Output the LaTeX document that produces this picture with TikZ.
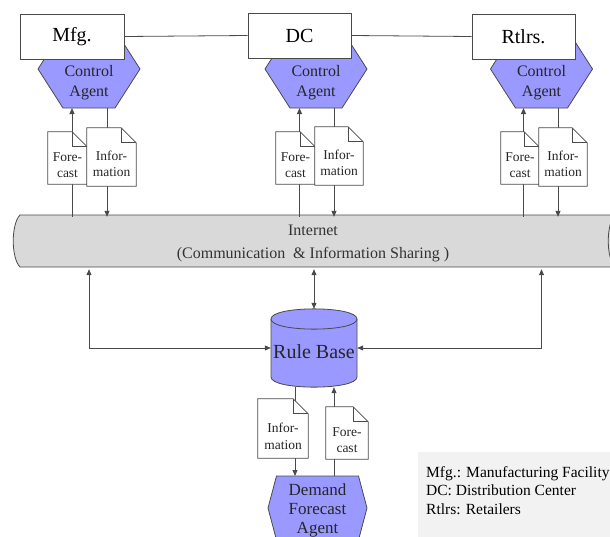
\documentclass[tikz,border=0pt]{standalone}
\usepackage{fontspec}
\setmainfont{Liberation Serif}
\usetikzlibrary{arrows.meta}

\definecolor{agentblue}{HTML}{9999FF}
\definecolor{netgray}{HTML}{D9D9D9}
\definecolor{keygray}{HTML}{F2F2F2}
\definecolor{linegray}{HTML}{4A4A4A}

% document symbol with a folded corner, drawn round a named node
\newcommand{\fold}[1]{%
  \draw[line, fill=white] (#1.south west) -- (#1.north west) -- ([xshift=-15pt]#1.north east)
        -- ([yshift=-15pt]#1.north east) -- (#1.south east) -- cycle;
  \draw[line] ([xshift=-15pt]#1.north east) |- ([yshift=-15pt]#1.north east);}

\begin{document}
\begin{tikzpicture}[x=1pt,y=-1pt,
    line/.style={draw=linegray, line width=0.8pt},
    arr/.style={line, -{Triangle[length=6pt,width=5pt]}},
    dblarr/.style={line, {Triangle[length=6pt,width=5pt]}-{Triangle[length=6pt,width=5pt]}},
    site/.style={rectangle, draw=linegray, fill=white, line width=0.8pt, minimum height=45pt,
                 inner sep=0pt, font=\fontsize{20}{24}\selectfont},
    agent/.style={line, fill=agentblue},
    agenttext/.style={align=center, inner sep=0pt, text=black!85, font=\fontsize{16}{20}\selectfont},
    doc/.style={rectangle, inner sep=0pt},
    doctext/.style={align=center, inner sep=0pt, text=black!85, font=\fontsize{13.5}{16.5}\selectfont},
    nettext/.style={align=center, inner sep=0pt, text=black!80, font=\fontsize{16}{23}\selectfont}]
  \clip (0,0) rectangle (610,536);
  \fill[white] (0,0) rectangle (610,536);

  % Internet band
  \draw[line, fill=netgray] (20,267) .. controls (11,258) and (11,224) .. (20,215)
        -- (625,215) -- (625,267) -- cycle;
  \draw[line] (615,215) .. controls (606,224) and (606,258) .. (615,267);
  \node[nettext, minimum width=586pt, minimum height=52pt] (NET) at (313,243)
        {Internet\\(Communication \ \& Information Sharing\ )};

  % control agents and sites
  \draw[agent] (89,69) ++(-51,0) -- ++(25,-39) -- ++(52,0) -- ++(25,39) -- ++(-25,39) -- ++(-52,0) -- cycle;
  \draw[agent] (316,69) ++(-51,0) -- ++(25,-39) -- ++(52,0) -- ++(25,39) -- ++(-25,39) -- ++(-52,0) -- cycle;
  \draw[agent] (541.5,69) ++(-51,0) -- ++(25,-39) -- ++(52,0) -- ++(25,39) -- ++(-25,39) -- ++(-52,0) -- cycle;
  \coordinate (caMb) at (89,108);
  \coordinate (caDb) at (316,108);
  \coordinate (caRb) at (541.5,108);
  \coordinate (ifMb) at (107,108);
  \coordinate (ifDb) at (334,108);
  \coordinate (ifRb) at (558,108);

  \node[site, minimum width=104pt] (Mfg) at (72,36.5) {Mfg.};
  \node[site, minimum width=103pt] (DC) at (299.5,35.5) {DC};
  \node[site, minimum width=103pt] (Rtlrs) at (523.5,36.5) {Rtlrs.};
  \draw[line] (Mfg.east) -- (DC.west);
  \draw[line] (DC.east) -- (Rtlrs.west);

  \node[agenttext] (caM) at (89,82.5) {Control\\Agent};
  \node[agenttext] (caD) at (316,82.5) {Control\\Agent};
  \node[agenttext] (caR) at (541.5,82.5) {Control\\Agent};

  % flows between agents and the Internet
  \draw[arr] (NET.north -| Mfg) -- (caMb -| Mfg);
  \draw[arr] (ifMb) -- (NET.north -| ifMb);
  \draw[arr] (NET.north -| DC) -- (caDb -| DC);
  \draw[arr] (ifDb) -- (NET.north -| ifDb);
  \draw[arr] (NET.north -| Rtlrs) -- (caRb -| Rtlrs);
  \draw[arr] (ifRb) -- (NET.north -| ifRb);

  \node[doc, minimum width=39pt, minimum height=52pt] (fcM) at (67.5,158) {};
  \fold{fcM}
  \node[doctext] (fcMt) at ([yshift=-7pt]fcM.center) {Fore-\\cast};
  \node[doc, minimum width=49pt, minimum height=58pt] (ifM) at (111.5,157) {};
  \fold{ifM}
  \node[doctext] (ifMt) at ([yshift=-7pt]ifM.center) {Infor-\\mation};

  \node[doc, minimum width=39pt, minimum height=52pt] (fcD) at (295.5,158) {};
  \fold{fcD}
  \node[doctext] (fcDt) at ([yshift=-7pt]fcD.center) {Fore-\\cast};
  \node[doc, minimum width=48pt, minimum height=58pt] (ifD) at (339,156) {};
  \fold{ifD}
  \node[doctext] (ifDt) at ([yshift=-7pt]ifD.center) {Infor-\\mation};

  \node[doc, minimum width=38pt, minimum height=52pt] (fcR) at (520,158) {};
  \fold{fcR}
  \node[doctext] (fcRt) at ([yshift=-7pt]fcR.center) {Fore-\\cast};
  \node[doc, minimum width=48pt, minimum height=58pt] (ifR) at (563,157) {};
  \fold{ifR}
  \node[doctext] (ifRt) at ([yshift=-7pt]ifR.center) {Infor-\\mation};

  % rule base
  \node[doc, minimum width=86pt, minimum height=78pt] (RB) at (314,348) {};
  \coordinate (rbTL) at (271,319);
  \coordinate (rbTR) at (357,319);
  \coordinate (rbBL) at (271,377);
  \coordinate (rbBR) at (357,377);
  \draw[agent] (rbTL) -- (rbBL) .. controls +(0,13.5) and +(0,13.5) .. (rbBR)
        -- (rbTR) .. controls +(0,-13.5) and +(0,-13.5) .. cycle;
  \draw[line] (rbTL) .. controls +(0,13.5) and +(0,13.5) .. (rbTR);
  \node[inner sep=0pt, text=black!85, font=\fontsize{20}{24}\selectfont] (RBt) at (314,352) {Rule Base};

  \draw[dblarr] (NET.south -| RB) -- (RB.north);
  \draw[dblarr] (NET.south -| caMb) |- (RB.west);
  \draw[dblarr] (NET.south -| caRb) |- (RB.east);

  % demand forecast agent
  \draw[agent] (317.5,508) ++(-49.5,0) -- ++(8.5,-32) -- ++(82,0) -- ++(8.5,32) -- ++(-8.5,32) -- ++(-82,0) -- cycle;
  \coordinate (dfaI) at (295,476);
  \coordinate (dfaF) at (334,476);
  \node[agenttext, font=\fontsize{17}{19}\selectfont] (dfa) at (317.5,510) {Demand\\Forecast\\Agent};

  \draw[arr] (RB.south -| dfaI) -- (dfaI);
  \draw[arr] (dfaF) -- (RB.south -| dfaF);

  \node[doc, minimum width=50pt, minimum height=59pt] (ifB) at (283,428.5) {};
  \fold{ifB}
  \node[doctext] (ifBt) at ([yshift=-8pt]ifB.center) {Infor-\\mation};
  \node[doc, minimum width=42pt, minimum height=52pt] (fcB) at (347,433) {};
  \fold{fcB}
  \node[doctext] (fcBt) at ([yshift=-7pt]fcB.center) {Fore-\\cast};

  % key
  \fill[keygray] (418,452) rectangle (625,545);
  \node[align=left, anchor=west, inner sep=0pt, font=\fontsize{15.5}{18.5}\selectfont] (key) at (426,490.5)
        {Mfg.: Manufacturing Facility\\DC: Distribution Center\\Rtlrs: Retailers};
\end{tikzpicture}
\end{document}
